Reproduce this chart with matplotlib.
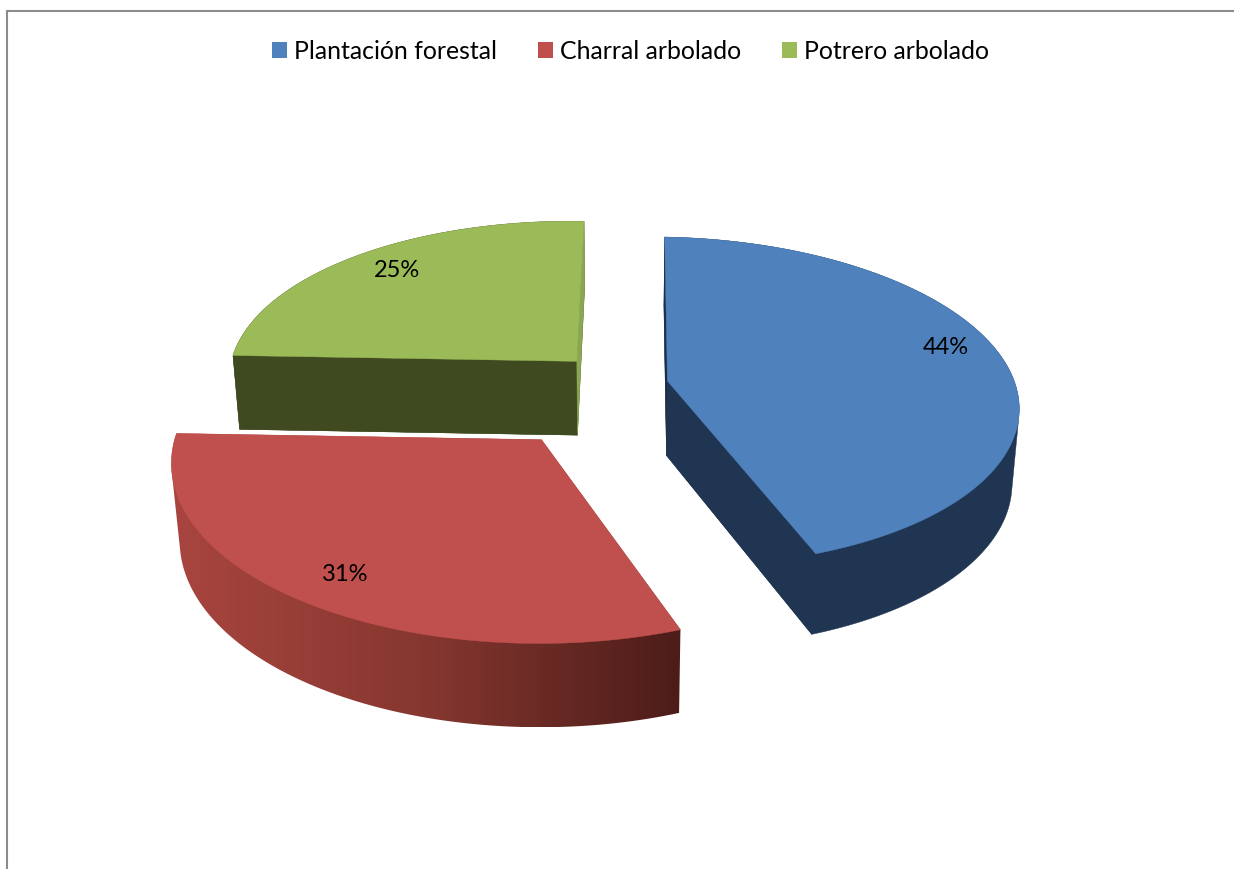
import numpy as np
import matplotlib
matplotlib.use("Agg")
import matplotlib.pyplot as plt
from matplotlib.patches import Patch, Polygon
from matplotlib.colors import LinearSegmentedColormap

categories = ["Plantación forestal", "Charral arbolado", "Potrero arbolado"]
shares = [44, 31, 25]

TOP_COLORS = ["#4F81BD", "#C0504D", "#9BBB59"]
RIM_COLORS = ["#1F3552", None, "#404A20"]
# Wall colours for the radial faces at the start and end angle of each slice.
RADIAL_COLORS = [("#1C2F49", "#1F3552"), ("#4C1C19", "#4C1C19"), ("#404A20", "#8AA652")]
RED_RIM = LinearSegmentedColormap.from_list("red_rim", ["#A94540", "#85372F", "#4C1C19"])

# Camera model for the tilted pie: plane units are pie radii.
CX, CY = 615.0, 385.0
A, B = 350.0, 163.0
PERSP = 0.125
SKEW_X, SKEW_Y = 3.5, 6.0
DEPTH, DEPTH_PERSP = 76.0, 0.018
# Displacement of each exploded slice in the pie plane.
OFFSETS = [(0.150, 0.03), (-0.198, -0.329), (-0.1125, 0.1436)]
LABEL_RADIUS = [0.86, 0.845, 0.83]
LABEL_TURN = [-5.5, -1.0, 1.0]
DRAW_ORDER = [2, 0, 1]


def project(x, y, lower=False):
    x, y = np.asarray(x, float), np.asarray(y, float)
    w = 1 + PERSP * y + (DEPTH_PERSP if lower else 0.0)
    d = DEPTH if lower else 0.0
    return CX + (A * x + SKEW_X * y) / w, CY + (-B * y + SKEW_Y * x + d) / w


def convex_hull(points):
    """Monotone-chain hull; a slice under 180 degrees is a convex solid."""
    pts = sorted(map(tuple, points))

    def half(seq):
        out = []
        for p in seq:
            while len(out) >= 2 and ((out[-1][0] - out[-2][0]) * (p[1] - out[-2][1])
                                     - (out[-1][1] - out[-2][1]) * (p[0] - out[-2][0])) <= 0:
                out.pop()
            out.append(p)
        return out[:-1]

    return np.array(half(pts) + half(pts[::-1]))


def band(x, y):
    """Outline of the wall hanging below the plane curve (x, y)."""
    tx, ty = project(x, y)
    bx, by = project(x, y, lower=True)
    return np.column_stack([np.r_[tx, bx[::-1]], np.r_[ty, by[::-1]]])


def faces_viewer(apex, end, inner):
    """A radial wall shows when screen-down leads away from the slice interior."""
    ex, ey = end[0] - apex[0], end[1] - apex[1]
    ix, iy = inner[0] - apex[0], inner[1] - apex[1]
    return ex * (ex * iy - ey * ix) < 0


fig = plt.figure(figsize=(12.34, 8.69), dpi=100)
ax = fig.add_axes([0, 0, 1, 1])
ax.axis("off")

# Chart area border: only the top and left edges fall inside the frame.
ax.plot([6.5, 6.5, 1234], [869, 10.5, 10.5], color="#8C8C8C", lw=1.5,
        solid_joinstyle="miter", zorder=1)

total = sum(shares)
edges = np.concatenate([[0], np.cumsum(shares)]) / total * 360.0
z = 2

for i in DRAW_ORDER:
    th = np.radians(np.linspace(edges[i], edges[i + 1], 240))
    mid = (edges[i] + edges[i + 1]) / 2
    ox, oy = OFFSETS[i]
    arc_x = ox + np.sin(th)
    arc_y = oy + np.cos(th)

    # Solid silhouette in the rim colour: flat for most slices, a left-to-right
    # ramp for the front one. Faces drawn later sit on top of it.
    body = convex_hull(band(np.r_[ox, arc_x], np.r_[oy, arc_y]))
    if RIM_COLORS[i] is None:
        poly = Polygon(body, closed=True, fc="none", ec="none", zorder=z)
        ax.add_patch(poly)
        ramp = np.linspace(0, 1, 256).reshape(1, -1)
        img = ax.imshow(ramp, cmap=RED_RIM, extent=(body[:, 0].min(), body[:, 0].max(),
                        body[:, 1].max(), body[:, 1].min()), aspect="auto", zorder=z)
        img.set_clip_path(poly)
    else:
        ax.add_patch(Polygon(body, closed=True, fc=RIM_COLORS[i], ec=RIM_COLORS[i],
                             lw=0.3, zorder=z))
    z += 1

    # Radial walls, only where the viewer can see them.
    apex = project(ox, oy)
    inner = project(ox + 0.5 * np.sin(np.radians(mid)), oy + 0.5 * np.cos(np.radians(mid)))
    for end, color in zip((0, -1), RADIAL_COLORS[i]):
        tip = project(arc_x[end], arc_y[end])
        if faces_viewer(apex, tip, inner):
            face = band([ox, arc_x[end]], [oy, arc_y[end]])
            ax.add_patch(Polygon(face, closed=True, fc=color, ec=color, lw=0.3, zorder=z))
            z += 1

    # Top face of the slice.
    px, py = project(np.r_[ox, arc_x], np.r_[oy, arc_y])
    ax.add_patch(Polygon(np.column_stack([px, py]), closed=True, fc=TOP_COLORS[i],
                         ec=TOP_COLORS[i], lw=0.3, zorder=z))
    z += 1

    # Percentage label sits on the top face near the mid angle.
    la = np.radians(mid + LABEL_TURN[i])
    lx, ly = project(ox + LABEL_RADIUS[i] * np.sin(la), oy + LABEL_RADIUS[i] * np.cos(la))
    ax.text(lx, ly, f"{shares[i]}%", ha="center", va="center",
            fontsize=17, family="Lato", color="black", zorder=2000)

ax.set_xlim(0, 1234)
ax.set_ylim(869, 0)

handles = [Patch(facecolor=c, edgecolor="none") for c in TOP_COLORS]
ax.legend(handles, categories, loc="upper center", bbox_to_anchor=(0.5112, 0.9538),
          ncol=3, frameon=False, prop={"family": "Lato", "size": 17.9},
          handlelength=0.6, handleheight=0.6, handletextpad=0.28,
          columnspacing=1.65, borderpad=0, borderaxespad=0, labelcolor="black")

fig.savefig("out.png", dpi=100)
